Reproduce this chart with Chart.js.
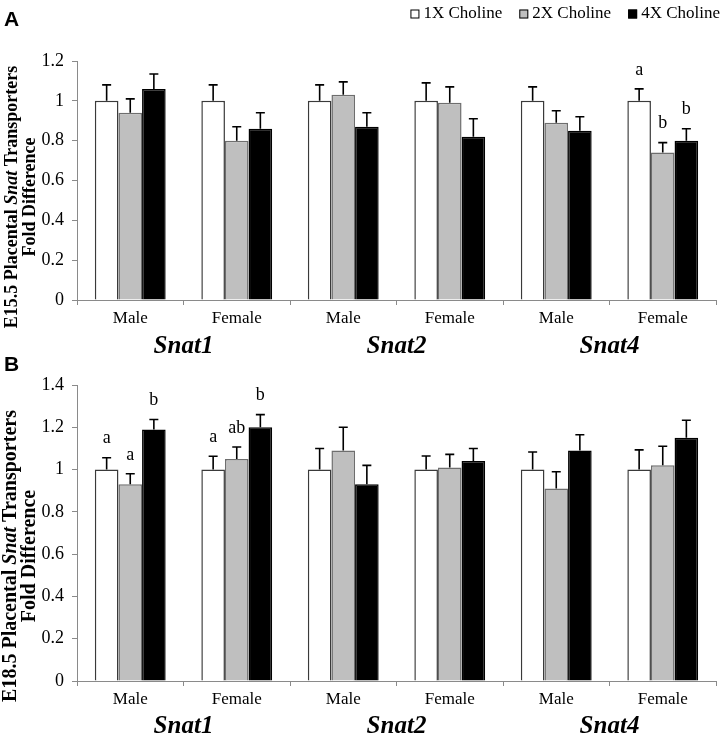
<!DOCTYPE html>
<html>
<head>
<meta charset="utf-8">
<script src="https://cdn.jsdelivr.net/npm/chart.js@4.4.1/dist/chart.umd.min.js"></script>
<style>
  html, body { margin: 0; padding: 0; background: #fff; }
  #wrap { position: relative; width: 722px; height: 735px; overflow: hidden; }
  canvas { position: absolute; left: 0; }
  #chartA { top: 0; }
  #chartB { top: 350px; }
</style>
</head>
<body>
<div id="wrap">
  <canvas id="chartA" width="722" height="365"></canvas>
  <canvas id="chartB" width="722" height="385"></canvas>
</div>
<script>
// categories and groups
const categories = ['Male', 'Female', 'Male', 'Female', 'Male', 'Female'];
const genes = ['Snat1', 'Snat2', 'Snat4'];
const seriesNames = ['1X Choline', '2X Choline', '4X Choline'];

// E15.5 (panel A) means and SEM
const e15_1x = [1.00, 1.00, 1.00, 1.00, 1.00, 1.00];
const e15_2x = [0.94, 0.80, 1.03, 0.99, 0.89, 0.74];
const e15_4x = [1.06, 0.86, 0.87, 0.82, 0.85, 0.80];
const e15_1x_sem = [0.08, 0.08, 0.08, 0.09, 0.07, 0.06];
const e15_2x_sem = [0.07, 0.07, 0.065, 0.08, 0.06, 0.05];
const e15_4x_sem = [0.075, 0.08, 0.07, 0.09, 0.07, 0.06];
const e15_1x_sig = ['', '', '', '', '', 'a'];
const e15_2x_sig = ['', '', '', '', '', 'b'];
const e15_4x_sig = ['', '', '', '', '', 'b'];

// E18.5 (panel B) means and SEM
const e18_1x = [1.00, 1.00, 1.00, 1.00, 1.00, 1.00];
const e18_2x = [0.93, 1.05, 1.09, 1.01, 0.91, 1.02];
const e18_4x = [1.19, 1.20, 0.93, 1.04, 1.09, 1.15];
const e18_1x_sem = [0.056, 0.063, 0.10, 0.064, 0.083, 0.093];
const e18_2x_sem = [0.05, 0.057, 0.11, 0.062, 0.08, 0.09];
const e18_4x_sem = [0.047, 0.06, 0.09, 0.06, 0.075, 0.083];
const e18_1x_sig = ['a', 'a', '', '', '', ''];
const e18_2x_sig = ['a', 'ab', '', '', '', ''];
const e18_4x_sig = ['b', 'b', '', '', '', ''];

const SERIF = "'Liberation Serif', 'Times New Roman', serif";
const SANS = "'Liberation Sans', Arial, sans-serif";
const fills = ['#ffffff', '#bfbfbf', '#000000'];
const edges = ['#3a3a3a', '#6e6e6e', '#000000'];
const axisGrey = '#8a8a8a';

function decorPlugin(p) {
  return {
    id: 'decor',
    afterDatasetsDraw(chart) {
      const ctx = chart.ctx;
      const xs = chart.scales.x, ys = chart.scales.y;
      const area = chart.chartArea;
      ctx.save();

      // error bars (upper only) and significance letters
      chart.data.datasets.forEach((ds, i) => {
        const meta = chart.getDatasetMeta(i);
        meta.data.forEach((bar, j) => {
          const top = ys.getPixelForValue(ds.data[j]);
          const end = ys.getPixelForValue(ds.data[j] + p.sem[i][j]);
          ctx.strokeStyle = '#000';
          ctx.lineWidth = 1.6;
          ctx.beginPath();
          ctx.moveTo(bar.x, top);
          ctx.lineTo(bar.x, end);
          ctx.moveTo(bar.x - 4.5, end);
          ctx.lineTo(bar.x + 4.5, end);
          ctx.stroke();
          const sig = p.sig[i][j];
          if (sig) {
            ctx.fillStyle = '#000';
            ctx.font = '18px ' + SERIF;
            ctx.textAlign = 'center';
            ctx.textBaseline = 'middle';
            ctx.fillText(sig, bar.x, end - 19);
          }
        });
      });

      // gene names under each Male/Female pair
      ctx.fillStyle = '#000';
      ctx.font = 'bold italic 25px ' + SERIF;
      ctx.textAlign = 'center';
      ctx.textBaseline = 'middle';
      genes.forEach((g, k) => {
        ctx.fillText(g, xs.getPixelForValue(2 * k + 0.5), area.bottom + p.geneOffset);
      });

      // rotated y title with italic Snat
      const parts = [
        ['bold ', p.stage + ' Placental '],
        ['bold italic ', 'Snat'],
        ['bold ', ' Transporters']
      ];
      ctx.save();
      ctx.translate(p.titleX1, p.titleCy);
      ctx.rotate(-Math.PI / 2);
      ctx.textAlign = 'left';
      let total = 0;
      parts.forEach(pt => { ctx.font = pt[0] + p.titleSize + 'px ' + SERIF; total += ctx.measureText(pt[1]).width; });
      let cx = -total / 2;
      parts.forEach(pt => {
        ctx.font = pt[0] + p.titleSize + 'px ' + SERIF;
        ctx.fillText(pt[1], cx, 0);
        cx += ctx.measureText(pt[1]).width;
      });
      ctx.restore();
      ctx.save();
      ctx.translate(p.titleX2, p.titleCy);
      ctx.rotate(-Math.PI / 2);
      ctx.textAlign = 'center';
      ctx.font = 'bold ' + p.titleSize + 'px ' + SERIF;
      ctx.fillText('Fold Difference', 0, 0);
      ctx.restore();

      // panel letter
      ctx.font = 'bold 21px ' + SANS;
      ctx.textAlign = 'left';
      ctx.fillText(p.letter, 4, p.letterY);

      // legend, right aligned
      if (p.legend) {
        ctx.font = '17px ' + SERIF;
        const box = 9, gapBox = 4, gapItem = 17;
        let right = 720;
        for (let i = chart.data.datasets.length - 1; i >= 0; i--) {
          const ds = chart.data.datasets[i];
          const tw = ctx.measureText(ds.label).width;
          const tx = right - tw;
          const bx = tx - gapBox - box;
          ctx.fillStyle = ds.backgroundColor;
          ctx.fillRect(bx, 14 - box / 2, box, box);
          ctx.strokeStyle = '#000';
          ctx.lineWidth = 1;
          ctx.strokeRect(bx + 0.5, 14 - box / 2 + 0.5, box - 1, box - 1);
          ctx.fillStyle = '#000';
          ctx.textAlign = 'left';
          ctx.fillText(ds.label, tx, 14);
          right = bx - gapItem;
        }
      }
      ctx.restore();
    }
  };
}

function makePanel(id, series, p) {
  const datasets = series.map((vals, i) => ({
    label: seriesNames[i],
    data: vals,
    backgroundColor: fills[i],
    borderColor: edges[i],
    borderWidth: 1.5,
    categoryPercentage: 0.665,
    barPercentage: 1.0
  }));
  return new Chart(document.getElementById(id), {
    type: 'bar',
    data: { labels: categories, datasets: datasets },
    options: {
      responsive: false,
      animation: false,
      layout: { padding: { left: 37, right: 6, top: p.padTop, bottom: 0 } },
      plugins: { legend: { display: false }, tooltip: { enabled: false } },
      scales: {
        x: {
          afterFit(s) { s.height = p.xHeight; },
          grid: { drawOnChartArea: false, color: axisGrey, tickLength: 5 },
          border: { color: axisGrey, width: 1 },
          ticks: { color: '#000', font: { family: SERIF, size: 17 }, padding: 3 }
        },
        y: {
          min: 0,
          max: p.yMax,
          afterFit(s) { s.width = 40; },
          grid: { drawOnChartArea: false, color: axisGrey, tickLength: 5 },
          border: { color: axisGrey, width: 1 },
          ticks: {
            stepSize: 0.2,
            color: '#000',
            font: { family: SERIF, size: 18 },
            padding: 8,
            callback: v => String(Math.round(v * 10) / 10)
          }
        }
      }
    },
    plugins: [decorPlugin(p)]
  });
}

makePanel('chartA', [e15_1x, e15_2x, e15_4x], {
  yMax: 1.2, padTop: 61, xHeight: 65,
  sem: [e15_1x_sem, e15_2x_sem, e15_4x_sem],
  sig: [e15_1x_sig, e15_2x_sig, e15_4x_sig],
  stage: 'E15.5', titleSize: 18, titleX1: 12, titleX2: 30, titleCy: 197,
  geneOffset: 47, letter: 'A', letterY: 20, legend: true
});

makePanel('chartB', [e18_1x, e18_2x, e18_4x], {
  yMax: 1.4, padTop: 35, xHeight: 54,
  sem: [e18_1x_sem, e18_2x_sem, e18_4x_sem],
  sig: [e18_1x_sig, e18_2x_sig, e18_4x_sig],
  stage: 'E18.5', titleSize: 20, titleX1: 11, titleX2: 30, titleCy: 206,
  geneOffset: 46, letter: 'B', letterY: 15, legend: false
});
</script>
</body>
</html>
